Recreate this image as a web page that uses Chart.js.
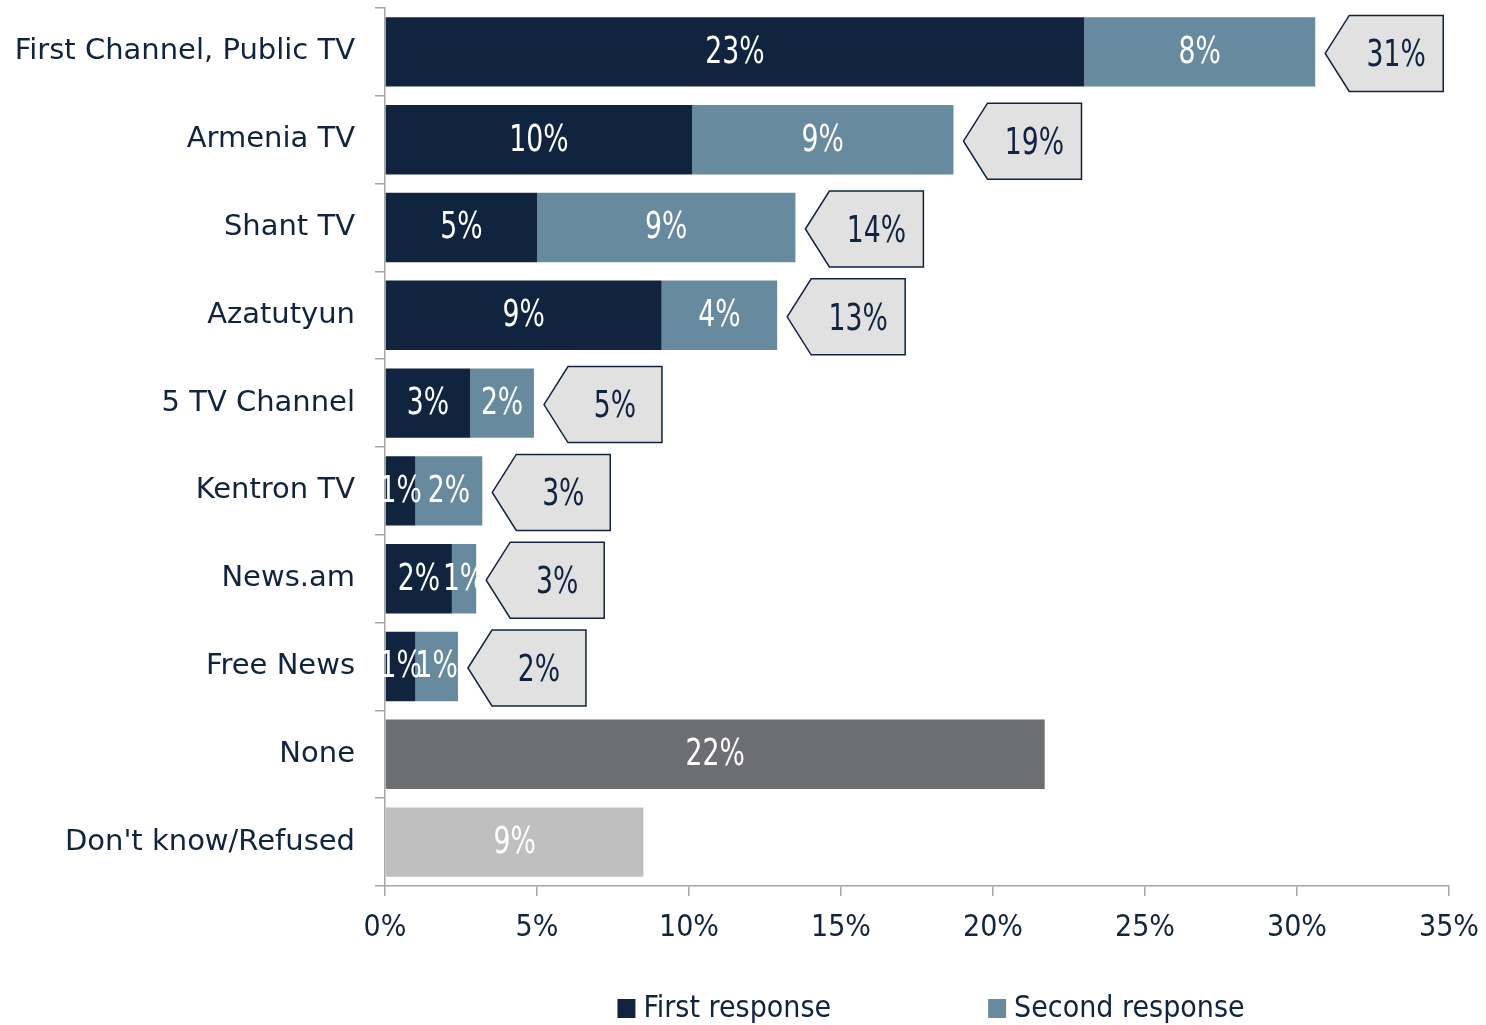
<!DOCTYPE html>
<html><head><meta charset="utf-8">
<script src="https://cdn.jsdelivr.net/npm/chart.js@4"></script>
<style>html,body{margin:0;padding:0;background:#fff}#wrap{position:relative;width:1486px;height:1025px}</style>
</head><body><div id="wrap"><canvas id="c" width="1486" height="1025"></canvas></div>
<script>
const categories = ["First Channel, Public TV","Armenia TV","Shant TV","Azatutyun","5 TV Channel","Kentron TV","News.am","Free News","None","Don't know/Refused"];
const firstResponse  = [23.0, 10.1, 5.0, 9.1, 2.8, 1.0, 2.2, 1.0, null, null];
const secondResponse = [7.6, 8.6, 8.5, 3.8, 2.1, 2.2, 0.8, 1.4, null, null];
const noneValues     = [null, null, null, null, null, null, null, null, 21.7, null];
const dontKnowValues = [null, null, null, null, null, null, null, null, null, 8.5];
const seriesNames = ["First response", "Second response", "None", "Don't know/Refused"];
const xTickValues = [0, 5, 10, 15, 20, 25, 30, 35];

const FONT_C = "'DejaVu Sans Condensed', 'DejaVu Sans', sans-serif";
const FONT_N = "'DejaVu Sans', sans-serif";
const TEXT = '#10233f';
const COLORS = ['#10233f', '#678a9e', '#6d6e71', '#bfbfbf'];
const AXIS = '#a6a6a6';

function narrowText(ctx, text, x, y) {
  ctx.save();
  ctx.translate(x, y);
  ctx.scale(0.78, 1);
  ctx.fillText(text, 0, 0);
  ctx.restore();
}

const labelPlugin = {
  id: 'segLabels',
  afterDatasetsDraw(chart) {
    const ctx = chart.ctx;
    ctx.save();
    ctx.font = '38px ' + FONT_C;
    ctx.textAlign = 'center';
    ctx.textBaseline = 'middle';
    ctx.fillStyle = '#ffffff';
    chart.data.datasets.forEach((ds, di) => {
      const meta = chart.getDatasetMeta(di);
      meta.data.forEach((el, i) => {
        const v = ds.data[i];
        if (v == null) return;
        const cx = (el.x + el.base) / 2;
        narrowText(ctx, Math.round(v) + '%', cx, el.y + 1);
      });
    });
    // total callouts
    const xs = chart.scales.x;
    const meta0 = chart.getDatasetMeta(0);
    ctx.lineWidth = 1.5;
    categories.forEach((c, i) => {
      if (firstResponse[i] == null || secondResponse[i] == null) return;
      const total = firstResponse[i] + secondResponse[i];
      const xEnd = xs.getPixelForValue(total);
      const yc = meta0.data[i].y + 1.5;
      const tip = xEnd + 10;
      const right = tip + 118;
      const depth = 24;
      const top = yc - 38, bot = yc + 38;
      ctx.beginPath();
      ctx.moveTo(tip, yc);
      ctx.lineTo(tip + depth, top);
      ctx.lineTo(right, top);
      ctx.lineTo(right, bot);
      ctx.lineTo(tip + depth, bot);
      ctx.closePath();
      ctx.fillStyle = '#e1e1e1';
      ctx.fill();
      ctx.strokeStyle = TEXT;
      ctx.stroke();
      ctx.fillStyle = TEXT;
      narrowText(ctx, Math.round(total) + '%', (tip + depth + right) / 2, yc + 3);
    });
    ctx.restore();
  }
};

const legendPlugin = {
  id: 'bottomLegend',
  afterDraw(chart) {
    const ctx = chart.ctx;
    const ca = chart.chartArea;
    ctx.save();
    ctx.font = '30px ' + FONT_C;
    ctx.textBaseline = 'middle';
    ctx.textAlign = 'left';
    const items = [0, 1].map(di => ({
      label: chart.data.datasets[di].label,
      color: chart.data.datasets[di].backgroundColor,
      w: 18 + 8 + ctx.measureText(chart.data.datasets[di].label).width
    }));
    const gap = 157;
    const total = items.reduce((s, it) => s + it.w, 0) + gap;
    let x = (ca.left + ca.right) / 2 + 14 - total / 2;
    const y = ca.bottom + 122;
    items.forEach(it => {
      ctx.fillStyle = it.color;
      ctx.fillRect(x, y - 9, 18, 19);
      ctx.fillStyle = TEXT;
      ctx.fillText(it.label, x + 26, y + 1);
      x += it.w + gap;
    });
    ctx.restore();
  }
};

const datasets = [firstResponse, secondResponse, noneValues, dontKnowValues].map((d, i) => ({
  label: seriesNames[i],
  data: d,
  backgroundColor: COLORS[i],
  borderWidth: 0,
  stack: 's',
  barPercentage: 0.79,
  categoryPercentage: 1.0
}));

new Chart(document.getElementById('c'), {
  type: 'bar',
  data: { labels: categories, datasets },
  options: {
    indexAxis: 'y',
    responsive: false,
    animation: false,
    devicePixelRatio: 1,
    layout: { padding: { top: 8, right: 37, bottom: 65, left: 10 } },
    plugins: { legend: { display: false }, tooltip: { enabled: false } },
    scales: {
      x: {
        stacked: true,
        min: xTickValues[0],
        max: xTickValues[xTickValues.length - 1],
        afterBuildTicks(scale) { scale.ticks = xTickValues.map(v => ({ value: v })); },
        afterFit(scale) { scale.paddingLeft = 0; scale.paddingRight = 0; },
        ticks: { callback: v => v + '%', font: { family: FONT_C, size: 30 }, color: TEXT, padding: 14, maxRotation: 0 },
        grid: { drawOnChartArea: false, drawTicks: true, tickLength: 10, color: AXIS, lineWidth: 1.5 },
        border: { color: AXIS, width: 1.5 }
      },
      y: {
        stacked: true,
        afterFit(scale) { scale.paddingTop = 0; scale.paddingBottom = 0; scale.width = 375; },
        ticks: { font: { family: FONT_N, size: 29 }, color: TEXT, padding: 20 },
        grid: { offset: true, drawOnChartArea: false, drawTicks: true, tickLength: 10, color: AXIS, lineWidth: 1.5 },
        border: { color: AXIS, width: 1.5 }
      }
    }
  },
  plugins: [labelPlugin, legendPlugin]
});
</script></body></html>
